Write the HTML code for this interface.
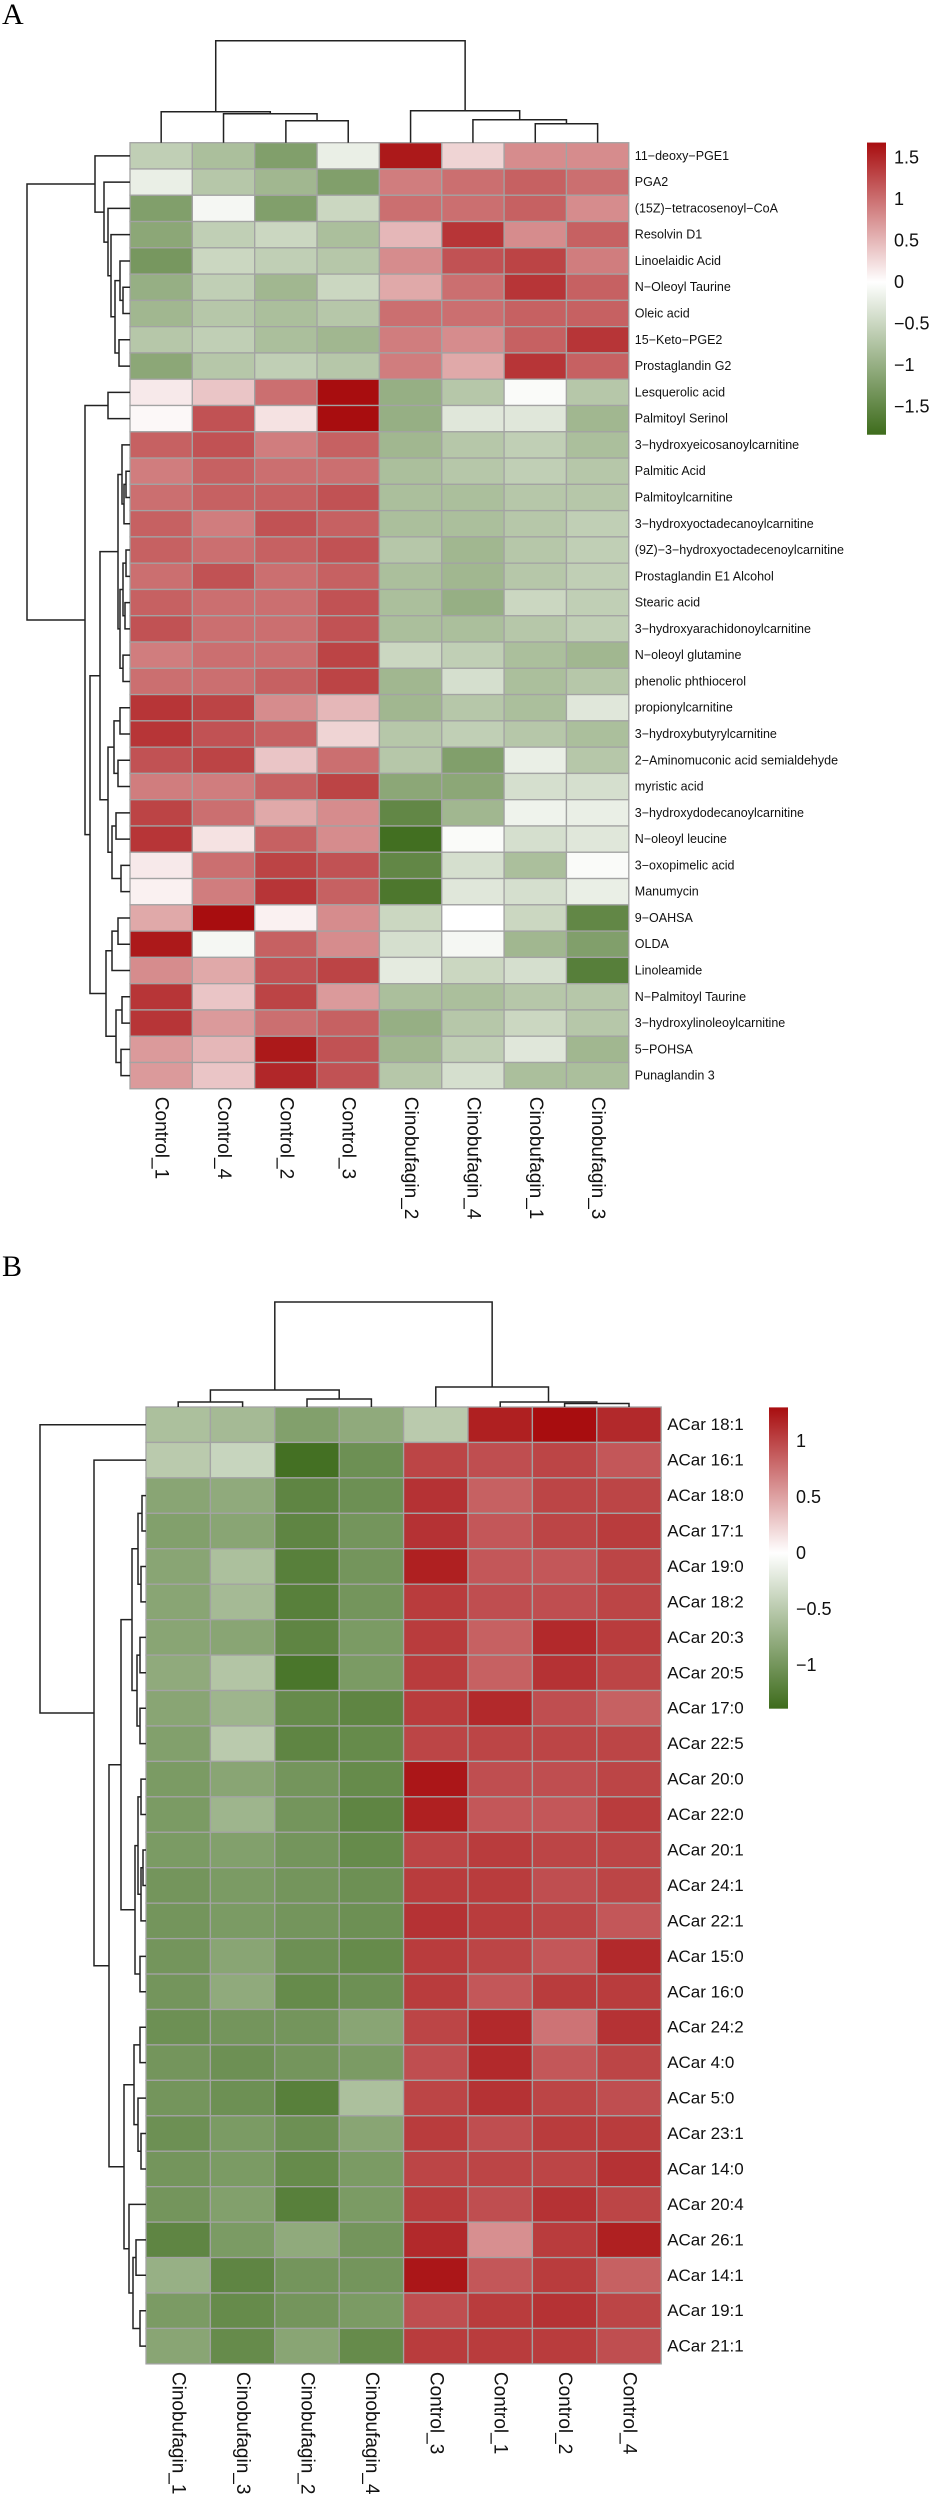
<!DOCTYPE html>
<html><head><meta charset="utf-8"><style>
html,body{margin:0;padding:0;background:#fff;}
svg{display:block;font-family:"Liberation Sans",Arial,sans-serif;}
</style></head><body>
<svg id="root" width="933" height="2500" viewBox="0 0 933 2500" xmlns="http://www.w3.org/2000/svg">
<text x="2" y="24" font-family="Liberation Serif,serif" font-size="30">A</text>
<text x="2" y="1276" font-family="Liberation Serif,serif" font-size="30">B</text>
<g id="pa"></g>
<g id="pb"></g>
</svg>
<script>
const NS="http://www.w3.org/2000/svg";
const colsA=["Control_1","Control_4","Control_2","Control_3","Cinobufagin_2","Cinobufagin_4","Cinobufagin_1","Cinobufagin_3"];
const rowsA=["11\u2212deoxy\u2212PGE1","PGA2","(15Z)\u2212tetracosenoyl\u2212CoA","Resolvin D1","Linoelaidic Acid","N\u2212Oleoyl Taurine","Oleic acid","15\u2212Keto\u2212PGE2","Prostaglandin G2","Lesquerolic acid","Palmitoyl Serinol","3\u2212hydroxyeicosanoylcarnitine","Palmitic Acid","Palmitoylcarnitine","3\u2212hydroxyoctadecanoylcarnitine","(9Z)\u22123\u2212hydroxyoctadecenoylcarnitine","Prostaglandin E1 Alcohol","Stearic acid","3\u2212hydroxyarachidonoylcarnitine","N\u2212oleoyl glutamine","phenolic phthiocerol","propionylcarnitine","3\u2212hydroxybutyrylcarnitine","2\u2212Aminomuconic acid semialdehyde","myristic acid","3\u2212hydroxydodecanoylcarnitine","N\u2212oleoyl leucine","3\u2212oxopimelic acid","Manumycin","9\u2212OAHSA","OLDA","Linoleamide","N\u2212Palmitoyl Taurine","3\u2212hydroxylinoleoylcarnitine","5\u2212POHSA","Punaglandin 3"];
const valuesA=[
[-0.6,-0.8,-1.2,-0.2,1.6,0.3,0.8,0.8],
[-0.2,-0.7,-0.9,-1.2,0.9,1.0,1.1,1.0],
[-1.2,-0.1,-1.2,-0.5,1.0,1.0,1.1,0.8],
[-1.1,-0.6,-0.5,-0.8,0.5,1.4,0.8,1.1],
[-1.3,-0.5,-0.6,-0.7,0.8,1.2,1.3,0.9],
[-1.0,-0.6,-0.9,-0.5,0.6,1.0,1.4,1.1],
[-0.9,-0.7,-0.8,-0.7,1.0,1.0,1.1,1.1],
[-0.7,-0.6,-0.8,-0.9,0.9,0.8,1.1,1.4],
[-1.1,-0.7,-0.6,-0.7,0.9,0.6,1.4,1.1],
[0.15,0.4,1.0,1.7,-1.0,-0.7,-0.05,-0.7],
[0.05,1.2,0.2,1.7,-1.0,-0.3,-0.3,-0.9],
[1.1,1.2,0.9,1.1,-0.9,-0.7,-0.6,-0.8],
[0.9,1.1,1.0,1.0,-0.8,-0.7,-0.6,-0.7],
[1.0,1.1,1.1,1.2,-0.8,-0.8,-0.7,-0.7],
[1.1,0.9,1.2,1.1,-0.8,-0.8,-0.7,-0.6],
[1.1,1.0,1.1,1.2,-0.7,-0.9,-0.7,-0.6],
[1.0,1.2,1.0,1.1,-0.8,-0.9,-0.7,-0.6],
[1.1,1.0,1.0,1.2,-0.8,-1.0,-0.5,-0.6],
[1.2,1.0,1.0,1.2,-0.8,-0.8,-0.7,-0.6],
[0.9,1.0,1.0,1.3,-0.5,-0.6,-0.8,-0.9],
[1.0,1.0,1.1,1.3,-0.9,-0.4,-0.8,-0.7],
[1.4,1.3,0.8,0.5,-0.9,-0.7,-0.8,-0.3],
[1.4,1.2,1.1,0.3,-0.7,-0.6,-0.7,-0.8],
[1.2,1.3,0.4,1.0,-0.7,-1.2,-0.2,-0.7],
[0.9,0.9,1.1,1.3,-1.1,-1.1,-0.4,-0.4],
[1.3,1.0,0.6,0.8,-1.5,-0.9,-0.15,-0.2],
[1.4,0.2,1.1,0.8,-1.8,-0.05,-0.4,-0.3],
[0.15,1.0,1.3,1.2,-1.5,-0.4,-0.8,-0.05],
[0.1,0.9,1.4,1.1,-1.7,-0.3,-0.4,-0.2],
[0.6,1.7,0.1,0.8,-0.5,0.0,-0.5,-1.5],
[1.6,-0.1,1.1,0.8,-0.4,-0.1,-0.9,-1.2],
[0.8,0.6,1.2,1.3,-0.25,-0.5,-0.4,-1.6],
[1.4,0.4,1.3,0.7,-0.8,-0.8,-0.7,-0.7],
[1.4,0.7,1.0,1.1,-1.0,-0.7,-0.5,-0.7],
[0.7,0.5,1.6,1.2,-0.9,-0.6,-0.3,-0.9],
[0.7,0.4,1.5,1.2,-0.7,-0.4,-0.8,-0.8]];
const ticksA=[1.5,1,0.5,0,-0.5,-1,-1.5];
const tickLabelsA=["1.5","1","0.5","0","\u22120.5","\u22121","\u22121.5"];
const colTreeA=[[0,[1,[2,3,22],29],31],[4,[5,[6,7,19],23],32],102];
const rowTreeA=[[0,[1,[2,[3,[[4,[5,6,7],10],[7,8,11],15],19],22],26],35],
 [[9,10,22],[[[[11,[[12,13,4],14,6],8],[[[15,16,4],[17,18,5],7],[19,20,7],10],12],[[[21,22,10],[23,24,12],16],[[25,26,14],[27,28,9],18],22],30],
 [[[29,30,12],31,18],[[32,33,8],[34,35,9],14],24],40],45],103];

const colsB=["Cinobufagin_1","Cinobufagin_3","Cinobufagin_2","Cinobufagin_4","Control_3","Control_1","Control_2","Control_4"];
const rowsB=["ACar 18:1","ACar 16:1","ACar 18:0","ACar 17:1","ACar 19:0","ACar 18:2","ACar 20:3","ACar 20:5","ACar 17:0","ACar 22:5","ACar 20:0","ACar 22:0","ACar 20:1","ACar 24:1","ACar 22:1","ACar 15:0","ACar 16:0","ACar 24:2","ACar 4:0","ACar 5:0","ACar 23:1","ACar 14:0","ACar 20:4","ACar 26:1","ACar 14:1","ACar 19:1","ACar 21:1"];
const valuesB=[
[-0.6,-0.65,-0.9,-0.8,-0.5,1.2,1.3,1.15],
[-0.5,-0.4,-1.35,-1.05,1.0,0.95,1.0,0.9],
[-0.85,-0.8,-1.15,-1.05,1.1,0.85,1.0,1.0],
[-0.9,-0.85,-1.15,-1.0,1.1,0.9,1.0,1.05],
[-0.85,-0.6,-1.2,-1.0,1.2,0.9,0.9,1.0],
[-0.85,-0.65,-1.2,-1.0,1.05,0.95,0.95,1.0],
[-0.85,-0.85,-1.15,-0.95,1.05,0.85,1.15,1.05],
[-0.8,-0.55,-1.3,-0.95,1.05,0.85,1.1,1.0],
[-0.85,-0.7,-1.1,-1.15,1.05,1.15,0.95,0.85],
[-0.9,-0.5,-1.15,-1.1,1.0,1.0,1.0,1.0],
[-0.95,-0.85,-1.0,-1.1,1.25,0.95,0.95,1.0],
[-0.95,-0.7,-1.0,-1.15,1.2,0.9,0.9,1.05],
[-0.95,-0.9,-1.0,-1.1,1.0,1.05,1.0,1.0],
[-1.0,-0.95,-1.0,-1.05,1.05,1.05,0.95,1.0],
[-1.0,-0.95,-1.0,-1.05,1.1,1.05,1.0,0.9],
[-1.0,-0.85,-1.05,-1.1,1.05,1.0,0.9,1.15],
[-1.0,-0.8,-1.1,-1.05,1.05,0.9,1.05,1.05],
[-1.05,-1.0,-1.0,-0.85,1.0,1.15,0.75,1.1],
[-1.0,-1.05,-1.0,-0.95,0.95,1.15,0.9,1.0],
[-1.0,-1.05,-1.2,-0.6,1.0,1.1,1.0,0.95],
[-1.05,-0.95,-1.05,-0.85,1.05,0.95,1.05,1.05],
[-1.0,-0.95,-1.1,-0.95,1.0,1.0,1.0,1.1],
[-1.0,-0.9,-1.2,-0.95,1.05,0.95,1.1,1.0],
[-1.15,-0.95,-0.8,-1.0,1.15,0.6,1.05,1.2],
[-0.75,-1.15,-1.0,-1.0,1.25,0.9,1.05,0.85],
[-0.95,-1.1,-1.0,-0.95,0.95,1.05,1.1,1.0],
[-0.85,-1.1,-0.85,-1.1,1.05,1.05,1.05,0.95]];
const ticksB=[1,0.5,0,-0.5,-1];
const tickLabelsB=["1","0.5","0","\u22120.5","\u22121"];
const colTreeB=[[[0,1,5],[2,3,8],17],[4,[5,[6,7,3.5],5],20],105];
const rowTreeB=[0,[1,[[[[[2,3,4],[4,5,5],8],[[6,7,6],[8,9,6],9],14],[[[10,11,5],[[12,13,3],14,5],8],[15,16,6],11],25],
 [[[17,18,6],[19,[20,21,5],8],12],[22,[[23,24,10],[25,26,6],13],17],22],37],52],106];

const RED=[168,13,15], GREEN=[62,108,28];
function col(v,vmin,vmax){
  let t,c;
  if(v>=0){t=Math.min(1,v/vmax);c=RED;}else{t=Math.min(1,v/vmin);c=GREEN;}
  const r=Math.round(255+(c[0]-255)*t),g=Math.round(255+(c[1]-255)*t),b=Math.round(255+(c[2]-255)*t);
  return `rgb(${r},${g},${b})`;
}
function el(tag,attrs,parent){const e=document.createElementNS(NS,tag);for(const k in attrs)e.setAttribute(k,attrs[k]);parent.appendChild(e);return e;}

function heatmap(g,cfg){
  const {cols,rows,vals,left,top,cw,rh,vmin,vmax}=cfg;
  rows.forEach((rn,i)=>{
    cols.forEach((cn,j)=>{
      const r=el('rect',{x:left+j*cw,y:top+i*rh,width:cw,height:rh,fill:col(vals[i][j],vmin,vmax),stroke:'#a3a3a3','stroke-width':1.3},g);
      
      
    });
    const t=el('text',{x:left+cols.length*cw+cfg.labGap,y:top+(i+0.5)*rh,'font-size':cfg.rowFont,'dominant-baseline':'central',fill:'#111'},g);
    t.textContent=rn;
    
    
  });
  cols.forEach((cn,j)=>{
    const x=left+(j+0.5)*cw, y=top+rows.length*rh+cfg.colGap;
    const t=el('text',{x:0,y:0,'font-size':cfg.colFont,'dominant-baseline':'central',transform:`translate(${x},${y}) rotate(90)`,fill:'#111'},g);
    t.textContent=cn;
    
    
  });
  // column dendrogram
  const lineAttrs={stroke:'#222','stroke-width':1.5,fill:'none'};
  function colNode(n){
    if(typeof n==='number')return {p:left+(n+0.5)*cw,h:0};
    const a=colNode(n[0]),b=colNode(n[1]),h=n[2],y=top-h;
    const p=el('path',Object.assign({d:`M${a.p},${top-a.h}V${y}H${b.p}V${top-b.h}`},lineAttrs),g);
    
    
    return {p:(a.p+b.p)/2,h:h};
  }
  function rowNode(n){
    if(typeof n==='number')return {p:top+(n+0.5)*rh,h:0};
    const a=rowNode(n[0]),b=rowNode(n[1]),h=n[2],x=left-h;
    const p=el('path',Object.assign({d:`M${left-a.h},${a.p}H${x}V${b.p}H${left-b.h}`},lineAttrs),g);
    
    
    return {p:(a.p+b.p)/2,h:h};
  }
  colNode(cfg.colTree);rowNode(cfg.rowTree);
  // colorbar
  const lb=cfg.legend;
  const gid='grad'+cfg.id;
  const defs=el('defs',{},g);
  const lg=el('linearGradient',{id:gid,x1:0,y1:0,x2:0,y2:1},defs);
  const zeroOff=vmax/(vmax-vmin);
  el('stop',{offset:0,'stop-color':col(vmax,vmin,vmax)},lg);
  el('stop',{offset:zeroOff,'stop-color':'#ffffff'},lg);
  el('stop',{offset:1,'stop-color':col(vmin,vmin,vmax)},lg);
  const y0=lb.zero-vmax*lb.ppu, y1=lb.zero-vmin*lb.ppu;
  const cb=el('rect',{x:lb.x,y:y0,width:lb.w,height:y1-y0,fill:`url(#${gid})`},g);
  
  
  cfg.ticks.forEach((tv,k)=>{
    const t=el('text',{x:lb.x+lb.w+8,y:lb.zero-tv*lb.ppu,'font-size':lb.font,'dominant-baseline':'central',fill:'#111'},g);
    t.textContent=cfg.tickLabels[k];
    
    
  });
}
heatmap(document.getElementById('pa'),{id:'A',cols:colsA,rows:rowsA,vals:valuesA,left:130,top:142.7,cw:62.35,rh:26.28,vmin:-1.84,vmax:1.68,
  rowFont:12.5,colFont:19,labGap:6,colGap:8,colTree:colTreeA,rowTree:rowTreeA,ticks:ticksA,tickLabels:tickLabelsA,
  legend:{x:867,w:19,zero:282,ppu:83,font:18}});
heatmap(document.getElementById('pb'),{id:'B',cols:colsB,rows:rowsB,vals:valuesB,left:146,top:1407,cw:64.4,rh:35.44,vmin:-1.39,vmax:1.3,
  rowFont:17,colFont:19,labGap:6,colGap:8,colTree:colTreeB,rowTree:rowTreeB,ticks:ticksB,tickLabels:tickLabelsB,
  legend:{x:769,w:19,zero:1553,ppu:112,font:18}});
</script>
</body></html>
